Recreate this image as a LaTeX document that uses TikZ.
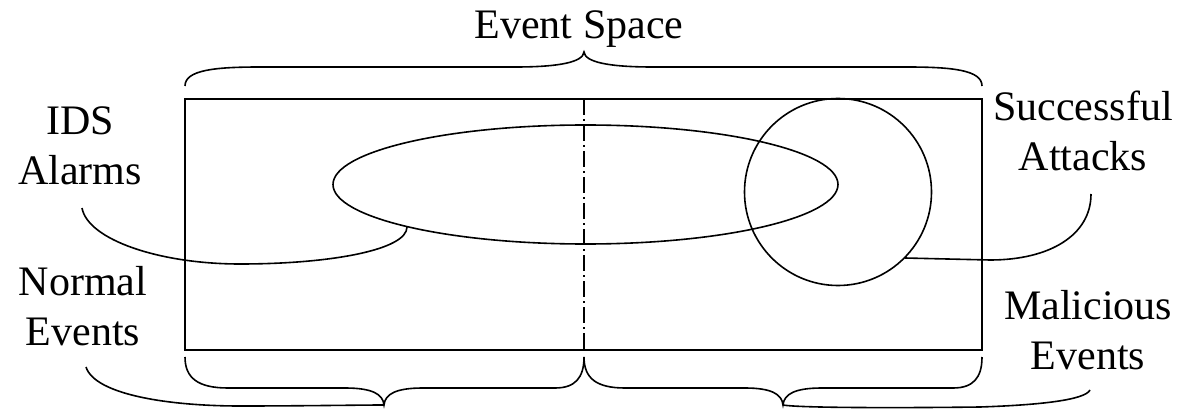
\documentclass[tikz,border=0pt]{standalone}
\usepackage{fontspec}
\setmainfont{Liberation Serif}
\begin{document}
\begin{tikzpicture}[x=1pt,y=-1pt,
  lbl/.style={font=\fontsize{42}{50}\selectfont, align=center, inner sep=0pt},
  ln/.style={line width=1.6pt, black},
  dashdot/.style={line width=1.6pt, dash pattern=on 16pt off 4pt on 2pt off 4pt}]
\useasboundingbox (0,0) rectangle (1184,409);

% labels
\node[lbl, anchor=base] (space) at (579,39) {Event Space};
\node[lbl, anchor=north] (ids) at (80,106.6) {IDS\\Alarms};
\node[lbl, anchor=north] (normal) at (83,266.3) {Normal\\Events};
\node[lbl, anchor=north] (succ) at (1083,90.3) {Successful\\Attacks};
\node[lbl, anchor=north] (mal) at (1088,290.3) {Malicious\\Events};

% event space rectangle and divider
\draw[ln] (185,99) rectangle (982,350);
\draw[dashdot] (584,99) -- (584,350);

% IDS alarms ellipse and successful attacks circle
\draw[ln] (585.5,184.5) ellipse [x radius=252.5, y radius=59.5];
\draw[ln] (838,192) circle [radius=93.5];

% leader coordinates
\coordinate (idsA) at (82,208);
\coordinate (idsB) at (407,227);
\coordinate (succA) at (1091,194);
\coordinate (succB) at (905,258);
\coordinate (normA) at (86,367);
\coordinate (tipL) at (384,405);
\coordinate (tipR) at (783,405);
\coordinate (malA) at (1090,390);
\coordinate (tipT) at (584,52);

% top brace
\draw[ln] (185,86) .. controls (185,70) and (215,67) .. (260,67) -- (515,67)
  .. controls (560,67) and (583,62) .. (tipT)
  .. controls (585,62) and (608,67) .. (653,67) -- (907,67)
  .. controls (952,67) and (982,70) .. (982,86);

% bottom braces
\draw[ln] (185,357) .. controls (185,378) and (198,388) .. (228,388) -- (345,388)
  .. controls (372,388) and (383,394) .. (tipL)
  .. controls (385,394) and (396,388) .. (423,388) -- (555,388)
  .. controls (575,388) and (584,378) .. (584,357);
\draw[ln] (584,357) .. controls (584,378) and (596,388) .. (625,388) -- (745,388)
  .. controls (771,388) and (782,394) .. (tipR)
  .. controls (784,394) and (795,388) .. (822,388) -- (953,388)
  .. controls (973,388) and (982,378) .. (982,357);

% leaders
\draw[ln] (idsA) .. controls (88,240) and (160,264) .. (240,264)
  .. controls (330,264) and (407,250) .. (idsB);
\draw[ln] (succB) -- (990,260) .. controls (1050,260) and (1091,235) .. (succA);
\draw[ln] (normA) .. controls (95,395) and (170,406) .. (240,406)
  .. controls (300,406) and (360,405) .. (tipL);
\draw[ln] (tipR) .. controls (800,408) and (900,408) .. (980,407)
  .. controls (1040,405) and (1085,400) .. (malA);
\end{tikzpicture}
\end{document}
